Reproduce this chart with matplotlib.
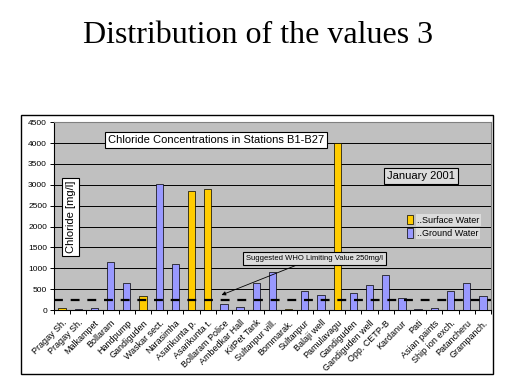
import numpy as np
import matplotlib.pyplot as plt
from matplotlib.patches import Rectangle, Patch

stations = ['Pragay Sh.', 'Pragay Sh.', 'Malkampet', 'Bollaram', 'Handpump',
            'Gandiguden', 'Waskar sect.', 'Narasimha', 'Asarikunta p.',
            'Asarikunta t.', 'Bollaram Police', 'Ambedkar Hall', 'KitPet Tank',
            'Sultanpur vill.', 'Bommarak.', 'Sultanpur', 'Balaji well',
            'Pamulavagu', 'Gandiguden', 'Gandiguden well', 'Opp. CETP-B',
            'Kardanur', 'Pati', 'Asian paints', 'Ship ion exch.', 'Patancheru',
            'Grampanch.']
chloride = [60, 30, 55, 1150, 650, 330, 3020, 1100, 2840, 2900, 140, 80, 650,
            900, 30, 460, 360, 4000, 400, 600, 830, 300, 30, 45, 460, 650, 330]
surface = [1, 0, 0, 0, 0, 1, 0, 0, 1, 1, 0, 0, 0, 0, 1, 0, 0, 1, 0, 0, 0, 0,
           0, 0, 0, 0, 0]
who_limit = 250
y_ticks = list(range(0, 4501, 500))

yellow = '#ffcc00'
blue = '#9999ff'
font = 'Liberation Sans'

fig = plt.figure(figsize=(5.19, 3.89), dpi=100)
fig.text(0.498, 0.889, 'Distribution of the values 3', ha='center',
         va='baseline', fontsize=23, family='Liberation Serif')

# chart border
fig.patches.append(Rectangle((0.0405, 0.0386), 0.909, 0.666, transform=fig.transFigure,
                             facecolor='white', edgecolor='black', lw=1.0, zorder=-1))

ax = fig.add_axes([0.104, 0.203, 0.842, 0.483])
ax.set_facecolor('#c0c0c0')
x = np.arange(len(stations))
colors = [yellow if s else blue for s in surface]
ax.bar(x, chloride, width=0.45, color=colors, edgecolor='black', lw=0.5, zorder=3)
ax.axhline(who_limit, color='black', lw=1.6, dashes=(4, 3.5), zorder=4)

ax.set_xlim(-0.5, len(stations) - 0.5)
ax.set_ylim(0, 4500)
ax.set_yticks(y_ticks)
ax.set_yticklabels([str(v) for v in y_ticks], fontsize=6, family=font)
ax.yaxis.grid(True, color='black', lw=0.7, zorder=1)
ax.set_axisbelow(True)
ax.set_xticks(x)
ax.set_xticklabels(stations, rotation=45, ha='right', rotation_mode='anchor',
                   fontsize=6.5, family=font)
ax.set_xticks(np.arange(-0.5, len(stations)), minor=True)
ax.tick_params(axis='x', which='major', length=0, pad=6)
ax.tick_params(axis='x', which='minor', length=3, width=0.7)
ax.tick_params(axis='y', length=3, width=0.7, pad=2)
for side in ['top', 'right']:
    ax.spines[side].set_color('#808080')
    ax.spines[side].set_linewidth(0.8)
ax.spines['left'].set_linewidth(0.8)
ax.spines['bottom'].set_linewidth(0.8)

ax.text(0.124, 0.904, 'Chloride Concentrations in Stations B1-B27', transform=ax.transAxes,
        fontsize=8, family=font, va='center', ha='left',
        bbox=dict(facecolor='white', edgecolor='black', lw=0.8, pad=2.2))
ax.text(0.038, 0.495, 'Chloride [mg/l]', transform=ax.transAxes, rotation=90,
        fontsize=8, family=font, va='center', ha='center',
        bbox=dict(facecolor='white', edgecolor='black', lw=0.8, pad=2.2))
ax.text(0.839, 0.715, 'January 2001', transform=ax.transAxes,
        fontsize=8, family=font, va='center', ha='center',
        bbox=dict(facecolor='#dcdcdc', edgecolor='black', lw=0.8, pad=2.2))
ax.annotate('Suggested WHO Limiting Value 250mg/l', xy=(9.85, 360), xytext=(11.35, 1244),
            fontsize=5.5, family=font, va='center', ha='left',
            bbox=dict(facecolor='#dcdcdc', edgecolor='black', lw=0.8, pad=2.2),
            arrowprops=dict(arrowstyle='-|>', color='black', lw=0.6,
                            mutation_scale=6, shrinkA=0, shrinkB=0))

handles = [Patch(facecolor=yellow, edgecolor='black', lw=0.5, label='..Surface Water'),
           Patch(facecolor=blue, edgecolor='black', lw=0.5, label='..Ground Water')]
leg = ax.legend(handles=handles, loc='center left', bbox_to_anchor=(0.79, 0.444),
                frameon=False, prop={'family': font, 'size': 6.5},
                handlelength=0.6, handleheight=1.2, handletextpad=0.5,
                labelspacing=0.4)
for t in leg.get_texts():
    t.set_bbox(dict(facecolor='#dcdcdc', edgecolor='none', pad=1))

plt.savefig('out.png', dpi=100)
